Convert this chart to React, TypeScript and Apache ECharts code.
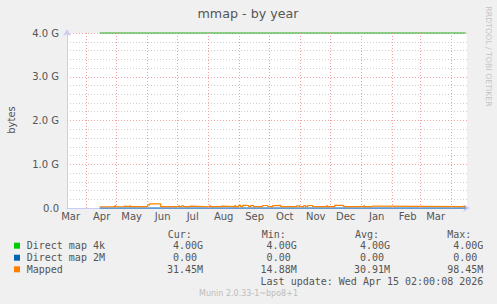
import React, { useEffect, useRef } from "react";
import * as echarts from "echarts";

const MiB = 1024 * 1024;
const GiB = 1024 * MiB;

// x range (400 days) and tick labels
const xStart = "2025-03-12T08:00:00";
const xEnd = "2026-04-16T08:00:00";
const monthStarts = [
  "2025-04-01", "2025-05-01", "2025-06-01", "2025-07-01", "2025-08-01", "2025-09-01",
  "2025-10-01", "2025-11-01", "2025-12-01", "2026-01-01", "2026-02-01", "2026-03-01", "2026-04-01",
];
const monthLabelDates = [
  "2025-03-16", "2025-04-16", "2025-05-16", "2025-06-16", "2025-07-16", "2025-08-16", "2025-09-16",
  "2025-10-16", "2025-11-16", "2025-12-16", "2026-01-16", "2026-02-16", "2026-03-16",
];
const monthLabels = ["Mar", "Apr", "May", "Jun", "Jul", "Aug", "Sep", "Oct", "Nov", "Dec", "Jan", "Feb", "Mar"];

const yTicksG = [0, 1, 2, 3, 4];

// series
const directMap4kDates = ["2025-04-14", "2026-04-15"];
const directMap4kGiB = [4.0, 4.0];
const directMap2MDates = ["2025-04-14", "2026-04-15"];
const directMap2MGiB = [0, 0];

const mappedDates = [
  "2025-04-14", "2025-04-29", "2025-04-30", "2025-05-08", "2025-05-09", "2025-05-14", "2025-05-15",
  "2025-06-01", "2025-06-03", "2025-06-14", "2025-07-02", "2025-07-03", "2025-07-05", "2025-07-07",
  "2025-07-13", "2025-07-14", "2025-08-02", "2025-08-03", "2025-08-13", "2025-08-14", "2025-08-27",
  "2025-08-28", "2025-08-31", "2025-09-02", "2025-09-04", "2025-09-07", "2025-09-10", "2025-09-12",
  "2025-09-15", "2025-09-24", "2025-09-29", "2025-10-04", "2025-10-06", "2025-10-12", "2025-10-28",
  "2025-10-31", "2025-11-04", "2025-11-06", "2025-11-08", "2025-11-13", "2025-11-27", "2025-11-28",
  "2025-12-05", "2025-12-14", "2026-01-03", "2026-01-04", "2026-01-11", "2026-01-12", "2026-04-15",
];
const mappedMiB = [
  29.6, 52, 29.8, 45, 30.2, 48, 29.9,
  72, 98.45, 30.5, 48, 30.0, 52, 30.1,
  44, 29.7, 50, 30.3, 46, 30.0, 55,
  30.2, 60, 30.4, 62, 58, 30.1, 56,
  30.0, 58, 30.3, 54, 60, 30.2, 52,
  30.1, 55, 30.0, 58, 30.4, 50, 30.1,
  62, 30.3, 48, 30.0, 45, 30.2, 31.45,
];

const legendRows = [
  { name: "Direct map 4k", color: "#00CC00", cur: "4.00G", min: "4.00G", avg: "4.00G", max: "4.00G", pad: 0 },
  { name: "Direct map 2M", color: "#0066B3", cur: "0.00", min: "0.00", avg: "0.00", max: "0.00", pad: 6 },
  { name: "Mapped", color: "#FF8000", cur: "31.45M", min: "14.88M", avg: "30.91M", max: "98.45M", pad: 0 },
];

const t = (s: string) => new Date(s.length === 10 ? s + "T00:00:00" : s).getTime();

export default function App() {
  const ref = useRef<HTMLDivElement>(null);
  useEffect(() => {
    if (!ref.current) return;
    const chart = echarts.init(ref.current, null, { renderer: "svg" });
    const textColor = "#555555";
    const mono = '10px "DejaVu Sans Mono"';
    const colRight = [203, 296.7, 390, 483.3];
    const labelTimes = monthLabelDates.map(t);
    const graphics: any[] = [
      {
        type: "text", x: 248, y: 13.5,
        style: { text: "mmap - by year", font: '12.7px "DejaVu Sans"', fill: textColor, align: "center", verticalAlign: "middle" },
      },
      {
        type: "text", x: 11, y: 120, rotation: Math.PI / 2,
        style: { text: "bytes", font: '10px "DejaVu Sans"', fill: textColor, align: "center", verticalAlign: "middle" },
      },
      {
        type: "text", x: 488.5, y: 56.5, rotation: -Math.PI / 2,
        style: { text: "RRDTOOL / TOBI OETIKER", font: '7.8px "DejaVu Sans"', fill: "#c4c4c4", align: "center", verticalAlign: "middle" },
      },
      {
        type: "text", x: 248.5, y: 293,
        style: { text: "Munin 2.0.33-1~bpo8+1", font: '8px "DejaVu Sans"', fill: "#bdbdbd", align: "center", verticalAlign: "middle" },
      },
      {
        type: "text", x: 483.3, y: 281,
        style: { text: "Last update: Wed Apr 15 02:00:08 2026", font: mono, fill: textColor, align: "right", verticalAlign: "middle" },
      },
    ];
    ["Cur:", "Min:", "Avg:", "Max:"].forEach((h, i) => {
      graphics.push({
        type: "text", x: [167.7, 261.7, 355, 447.3][i], y: 234,
        style: { text: h, font: mono, fill: textColor, align: "left", verticalAlign: "middle" },
      });
    });
    const rowY = [245.7, 257.7, 269.3];
    legendRows.forEach((r, i) => {
      graphics.push({ type: "rect", shape: { x: 14, y: rowY[i] - 3, width: 6, height: 6 }, style: { fill: r.color } });
      graphics.push({
        type: "text", x: 26.7, y: rowY[i],
        style: { text: r.name, font: mono, fill: textColor, align: "left", verticalAlign: "middle" },
      });
      [r.cur, r.min, r.avg, r.max].forEach((v, j) => {
        graphics.push({
          type: "text", x: colRight[j] - r.pad, y: rowY[i],
          style: { text: v, font: mono, fill: textColor, align: "right", verticalAlign: "middle" },
        });
      });
    });

    const axisColor = "#c9cdf5";
    const option: any = {
      animation: false,
      backgroundColor: "#f0f0f0",
      grid: { left: 67, top: 33, width: 400, height: 175, show: true, backgroundColor: "#ffffff", borderWidth: 0 },
      xAxis: {
        type: "value",
        min: t(xStart),
        max: t(xEnd),
        axisLine: { show: true, onZero: false, lineStyle: { color: axisColor, width: 1 }, symbol: ["none", "arrow"], symbolSize: [6, 7], symbolOffset: [0, 3] },
        axisTick: { show: false },
        splitLine: { show: false },
        axisLabel: {
          customValues: labelTimes,
          formatter: (v: number) => {
            const idx = labelTimes.indexOf(v);
            return idx >= 0 ? monthLabels[idx] : "";
          },
          color: textColor,
          fontFamily: "DejaVu Sans",
          fontSize: 10,
          margin: 3,
          hideOverlap: false,
          showMinLabel: true,
          showMaxLabel: true,
        },
      },
      yAxis: {
        type: "value",
        min: 0,
        max: 4 * GiB,
        interval: GiB,
        axisLine: { show: true, lineStyle: { color: axisColor, width: 1 }, symbol: ["none", "arrow"], symbolSize: [6, 7], symbolOffset: [0, 4] },
        axisTick: { show: false },
        axisLabel: {
          formatter: (v: number) => {
            const g = v / GiB;
            return yTicksG.indexOf(g) >= 0 ? (g === 0 ? "0.0" : g.toFixed(1) + " G") : "";
          },
          color: textColor,
          fontFamily: "DejaVu Sans",
          fontSize: 10,
          margin: 8,
        },
        splitLine: { show: true, lineStyle: { color: "#f2a6a6", type: [1, 2], width: 1 } },
        minorTick: { show: false, splitNumber: 5 },
        minorSplitLine: { show: true, lineStyle: { color: "#cfcfcf", type: [1, 2], width: 1 } },
      },
      series: [
        {
          type: "line",
          data: [],
          z: 1,
          silent: true,
          markLine: {
            silent: true,
            symbol: ["none", "none"],
            label: { show: false },
            lineStyle: { color: "#f2a0a0", type: [1, 2], width: 1 },
            data: monthStarts.map((m) => ({ xAxis: t(m) })),
          },
        },
        {
          name: "Direct map 4k",
          type: "line",
          step: "end",
          showSymbol: false,
          clip: false,
          z: 3,
          lineStyle: { color: "#1fae1f", width: 1 },
          data: directMap4kDates.map((d, i) => [t(d), directMap4kGiB[i] * GiB]),
        },
        {
          name: "Direct map 2M",
          type: "line",
          step: "end",
          showSymbol: false,
          clip: false,
          z: 3,
          lineStyle: { color: "#0066B3", width: 1 },
          data: directMap2MDates.map((d, i) => [t(d), directMap2MGiB[i] * GiB]),
        },
        {
          name: "Mapped",
          type: "line",
          step: "end",
          showSymbol: false,
          clip: false,
          z: 4,
          lineStyle: { color: "#FF8000", width: 1.2 },
          data: mappedDates.map((d, i) => [t(d), mappedMiB[i] * MiB]),
        },
      ],
      graphic: graphics,
    };
    chart.setOption(option);
    return () => chart.dispose();
  }, []);
  return <div ref={ref} style={{ position: "fixed", left: 0, top: 0, width: 497, height: 304 }} />;
}
